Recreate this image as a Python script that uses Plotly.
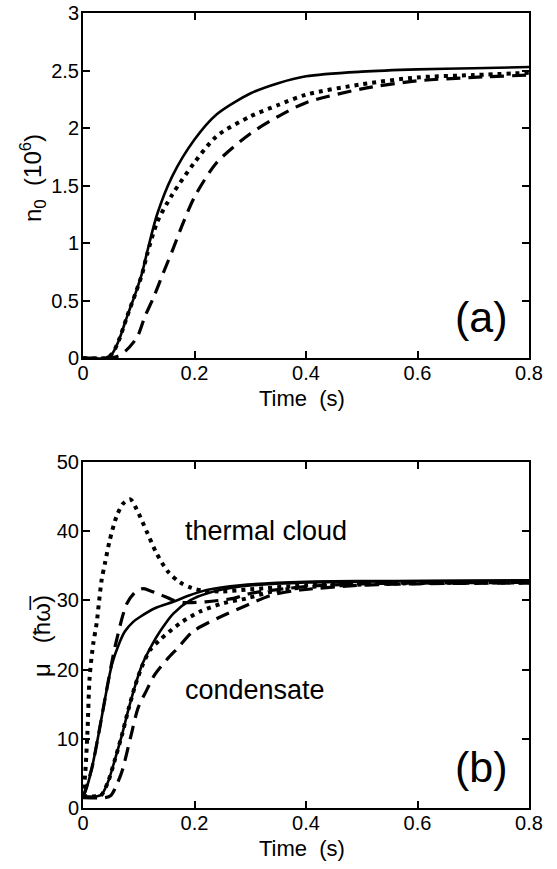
import plotly.graph_objects as go

# ---------------- Panel (a): condensate number n0 (10^6) ----------------
t_a_solid = [0, 0.04, 0.052, 0.064, 0.079, 0.094, 0.106, 0.115, 0.133, 0.16, 0.2, 0.24, 0.3, 0.35, 0.4, 0.5, 0.6, 0.7, 0.8]
n_a_solid = [0, 0, 0.035, 0.15, 0.36, 0.56, 0.74, 0.92, 1.25, 1.58, 1.90, 2.12, 2.30, 2.39, 2.45, 2.49, 2.51, 2.52, 2.53]

t_a_dot = [0, 0.04, 0.052, 0.064, 0.079, 0.094, 0.106, 0.115, 0.133, 0.16, 0.2, 0.24, 0.3, 0.35, 0.4, 0.5, 0.6, 0.7, 0.8]
n_a_dot = [0, 0, 0.035, 0.15, 0.36, 0.56, 0.73, 0.90, 1.18, 1.42, 1.70, 1.93, 2.10, 2.20, 2.29, 2.38, 2.44, 2.46, 2.48]

t_a_dash = [0, 0.05, 0.06, 0.076, 0.097, 0.111, 0.126, 0.144, 0.16, 0.18, 0.2, 0.24, 0.3, 0.35, 0.4, 0.5, 0.6, 0.7, 0.8]
n_a_dash = [0, 0, 0.01, 0.06, 0.18, 0.36, 0.52, 0.74, 0.93, 1.18, 1.40, 1.70, 1.95, 2.10, 2.22, 2.34, 2.41, 2.44, 2.46]

# ---------------- Panel (b): chemical potentials mu (hbar omega) ----------------
t_th_dot = [0, 0.004, 0.008, 0.012, 0.0185, 0.0245, 0.029, 0.0335, 0.0395, 0.048, 0.06, 0.072, 0.085, 0.096, 0.114, 0.132, 0.153, 0.174, 0.195, 0.216, 0.25, 0.3, 0.4, 0.5, 0.6, 0.8]
mu_th_dot = [1.5, 5, 11, 19, 23.8, 26.7, 30, 33, 35.4, 38.7, 42.1, 44.0, 44.6, 43.2, 40, 36.8, 34.1, 32.6, 31.8, 31.4, 31.3, 31.6, 32.2, 32.5, 32.6, 32.7]

t_th_dash = [0, 0.016, 0.028, 0.04, 0.058, 0.079, 0.095, 0.108, 0.12, 0.14, 0.16, 0.18, 0.22, 0.27, 0.3, 0.4, 0.5, 0.6, 0.8]
mu_th_dash = [1.5, 5.8, 10.7, 16, 23.5, 29.6, 31.3, 31.7, 31.4, 30.8, 30.1, 29.7, 29.8, 30.3, 31.0, 32.0, 32.4, 32.5, 32.6]

t_th_solid = [0, 0.005, 0.016, 0.028, 0.04, 0.052, 0.064, 0.075, 0.09, 0.102, 0.13, 0.162, 0.19, 0.222, 0.282, 0.4, 0.5, 0.6, 0.8]
mu_th_solid = [1.5, 2.5, 5.8, 10.7, 16, 20.8, 23.6, 25.5, 26.9, 27.6, 28.9, 29.8, 30.7, 31.5, 32.2, 32.7, 32.8, 32.8, 32.9]

t_c_solid = [0, 0.025, 0.033, 0.045, 0.058, 0.07, 0.082, 0.094, 0.106, 0.124, 0.138, 0.162, 0.192, 0.222, 0.282, 0.4, 0.5, 0.6, 0.8]
mu_c_solid = [1.7, 1.7, 1.9, 3.8, 7.2, 10.6, 14.4, 17.8, 20.7, 23.6, 25.5, 28.1, 30, 31, 32, 32.6, 32.7, 32.8, 32.9]

t_c_dot = [0, 0.025, 0.033, 0.045, 0.058, 0.07, 0.082, 0.094, 0.106, 0.12, 0.138, 0.174, 0.21, 0.252, 0.294, 0.34, 0.4, 0.5, 0.6, 0.8]
mu_c_dot = [1.7, 1.7, 1.9, 3.8, 7.2, 10.6, 14.4, 17.8, 20.5, 22.8, 24.3, 26.7, 28.4, 29.6, 30.3, 31.3, 31.9, 32.3, 32.5, 32.6]

t_c_dash = [0, 0.04, 0.05, 0.058, 0.07, 0.085, 0.099, 0.114, 0.129, 0.153, 0.171, 0.197, 0.246, 0.294, 0.34, 0.39, 0.5, 0.6, 0.8]
mu_c_dash = [1.5, 1.5, 1.8, 2.9, 5.3, 10.1, 14.5, 17.0, 19.3, 21.7, 23.2, 25.5, 27.6, 29.3, 30.8, 31.5, 32.2, 32.4, 32.5]

x_ticks = [0, 0.2, 0.4, 0.6, 0.8]
x_ticklabels = ["0", "0.2", "0.4", "0.6", "0.8"]
ya_ticks = [0, 0.5, 1, 1.5, 2, 2.5, 3]
ya_ticklabels = ["0", "0.5", "1", "1.5", "2", "2.5", "3"]
yb_ticks = [0, 10, 20, 30, 40, 50]
yb_ticklabels = ["0", "10", "20", "30", "40", "50"]

FONT = "Liberation Sans, Arial, Helvetica, sans-serif"
SOLID = dict(color="black", width=2.6)
DOT = dict(color="black", width=4.0, dash="4px,5px")
DASH = dict(color="black", width=3.2, dash="14px,8px")

fig = go.Figure()

def add(x, y, line, xa, ya):
    fig.add_trace(go.Scatter(x=x, y=y, mode="lines", line=dict(shape="spline", smoothing=0.8, **line),
                             xaxis=xa, yaxis=ya, showlegend=False, hoverinfo="skip"))

add(t_a_dash, n_a_dash, DASH, "x", "y")
add(t_a_dot, n_a_dot, DOT, "x", "y")
add(t_a_solid, n_a_solid, SOLID, "x", "y")

add(t_th_dot, mu_th_dot, DOT, "x2", "y2")
add(t_th_dash, mu_th_dash, DASH, "x2", "y2")
add(t_th_solid, mu_th_solid, SOLID, "x2", "y2")
add(t_c_dot, mu_c_dot, DOT, "x2", "y2")
add(t_c_dash, mu_c_dash, DASH, "x2", "y2")
add(t_c_solid, mu_c_solid, SOLID, "x2", "y2")

W, H = 557, 869
xdom = [83 / W, 529 / W]
ydom_a = [(H - 358) / H, (H - 13) / H]
ydom_b = [(H - 808) / H, (H - 462) / H]

axis_common = dict(showgrid=False, zeroline=False, showline=True, linecolor="black", linewidth=2,
                   mirror="ticks", ticks="inside", ticklen=7, tickwidth=1.5, tickcolor="black",
                   automargin=False, tickfont=dict(family=FONT, size=20, color="black"))
xaxis_common = dict(ticklabelstandoff=-4, **axis_common)
yaxis_common = dict(ticklabelstandoff=-2, **axis_common)

def ann(text, x, y, size, angle=0):
    return dict(text=text, x=x / W, y=1 - y / H, xref="paper", yref="paper", showarrow=False,
                textangle=angle, xanchor="center", yanchor="middle",
                font=dict(family=FONT, size=size, color="black"))

fig.update_layout(
    template="none",
    width=W, height=H, margin=dict(l=0, r=0, t=0, b=0, autoexpand=False),
    paper_bgcolor="white", plot_bgcolor="white",
    font=dict(family=FONT, color="black"),
    xaxis=dict(domain=xdom, range=[0, 0.8], anchor="y", tickvals=x_ticks, ticktext=x_ticklabels, **xaxis_common),
    yaxis=dict(domain=ydom_a, range=[0, 3], anchor="x", tickvals=ya_ticks, ticktext=ya_ticklabels, **yaxis_common),
    xaxis2=dict(domain=xdom, range=[0, 0.8], anchor="y2", tickvals=x_ticks, ticktext=x_ticklabels, **xaxis_common),
    yaxis2=dict(domain=ydom_b, range=[0, 50], anchor="x2", tickvals=yb_ticks, ticktext=yb_ticklabels, **yaxis_common),
    annotations=[
        ann("Time  (s)", 302, 398, 22),
        ann("Time  (s)", 302, 848, 22),
        ann("n<sub>0</sub>  (10<sup>6</sup>)", 33, 178, 24, -90),
        ann("\u03bc   (\u0127\u03c9\u0305)", 41, 636, 24, -90),
        dict(text="(a)", x=0.714, y=0.36, xref="x", yref="y", showarrow=False,
             font=dict(family=FONT, size=43, color="black")),
        dict(text="(b)", x=0.714, y=5.9, xref="x2", yref="y2", showarrow=False,
             font=dict(family=FONT, size=43, color="black")),
        dict(text="thermal cloud", x=0.179, y=40, xref="x2", yref="y2", xanchor="left", showarrow=False,
             font=dict(family=FONT, size=27, color="black")),
        dict(text="condensate", x=0.179, y=17, xref="x2", yref="y2", xanchor="left", showarrow=False,
             font=dict(family=FONT, size=27, color="black")),
    ],
)

fig.write_html("out.html")
